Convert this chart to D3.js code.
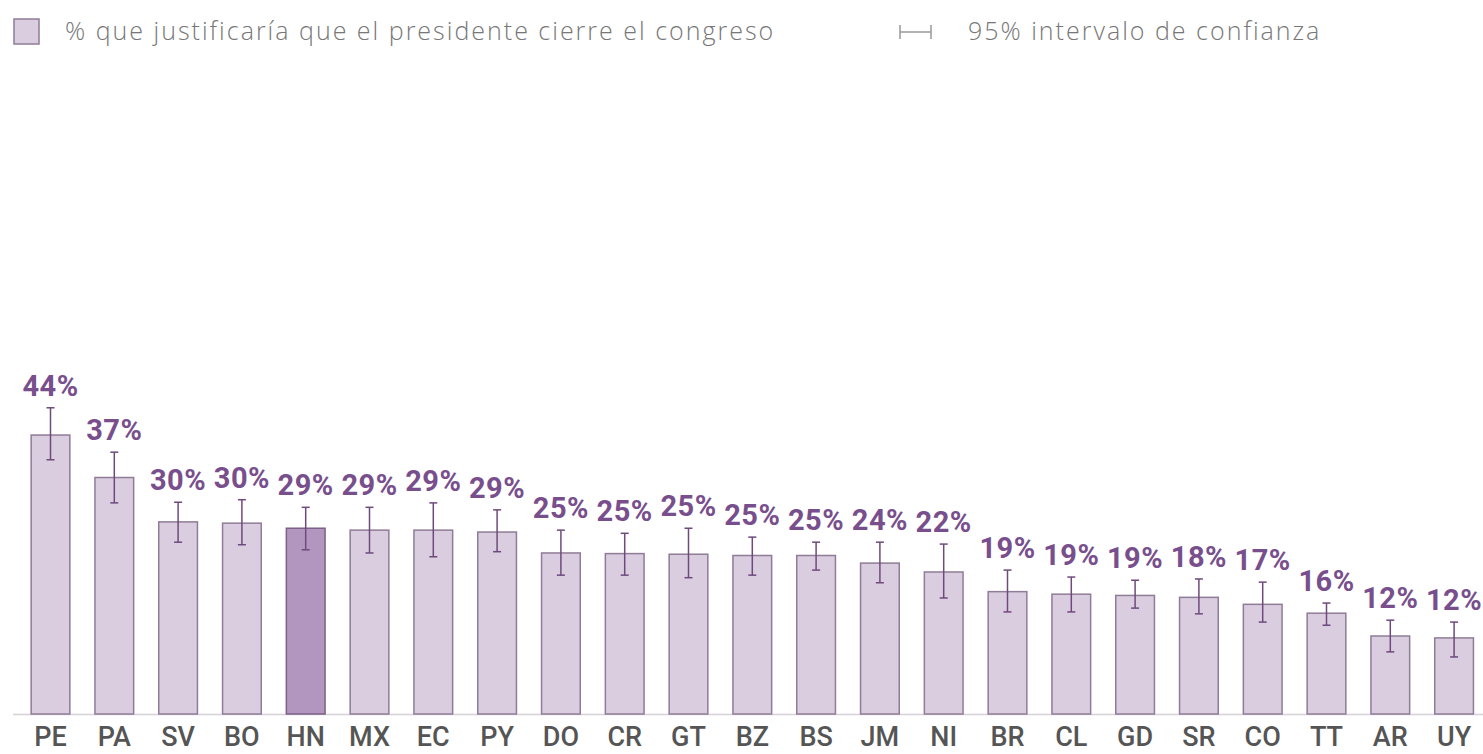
<!DOCTYPE html>
<html><head><meta charset="utf-8">
<script src="https://cdn.jsdelivr.net/npm/d3@7"></script>
<style>html,body{margin:0;padding:0;background:#fff;}svg{display:block;}</style>
</head><body>
<svg id="chart" width="1483" height="754"></svg>
<script>
const countries = ["PE","PA","SV","BO","HN","MX","EC","PY","DO","CR","GT","BZ","BS","JM","NI","BR","CL","GD","SR","CO","TT","AR","UY"];
const values    = [44.0,37.3,30.3,30.1,29.3,29.0,29.0,28.7,25.4,25.3,25.2,25.0,25.0,23.8,22.4,19.3,18.9,18.7,18.4,17.3,15.9,12.3,12.0];
const ciLow     = [40.1,33.3,27.1,26.7,25.9,25.4,24.8,25.6,21.9,21.9,21.5,21.9,22.7,20.7,18.3,16.1,16.1,16.7,15.8,14.5,14.0,9.8,9.0];
const ciHigh    = [48.3,41.3,33.4,33.8,32.6,32.6,33.3,32.2,29.0,28.5,29.3,27.9,27.1,27.1,26.8,22.7,21.6,21.1,21.3,20.8,17.5,14.8,14.5];
const highlight = "HN";
const legendLabels = ["% que justificaría que el presidente cierre el congreso", "95% intervalo de confianza"];

const data = countries.map((c,i)=>({c, v:values[i], lo:ciLow[i], hi:ciHigh[i]}));
const svg = d3.select("#chart");

const x = d3.scaleBand().domain(countries).range([18.6, 1486]).paddingInner(0.37).paddingOuter(0.185);
const y = d3.scaleLinear().domain([0,100]).range([714, 80]);

// baseline
svg.append("line").attr("x1",13).attr("x2",1483).attr("y1",y(0)+0.5).attr("y2",y(0)+0.5)
  .attr("stroke","#d6d0d8").attr("stroke-width",1.5);

// bars
svg.append("g").selectAll("rect").data(data).join("rect")
  .attr("x", d=>x(d.c)+0.75).attr("width", x.bandwidth()-1.5)
  .attr("y", d=>y(d.v)).attr("height", d=>y(0)-y(d.v))
  .attr("fill", d=>d.c===highlight?"#b396c0":"#dacde0")
  .attr("stroke", d=>d.c===highlight?"#7e6088":"#8f7c96").attr("stroke-width",1.5);

// error bars
const cap = 4;
const eg = svg.append("g").attr("stroke","#6e4a7c").attr("stroke-width",1.5);
data.forEach(d=>{
  const cx = x(d.c)+x.bandwidth()/2;
  eg.append("line").attr("x1",cx).attr("x2",cx).attr("y1",y(d.hi)).attr("y2",y(d.lo));
  eg.append("line").attr("x1",cx-cap).attr("x2",cx+cap).attr("y1",y(d.hi)).attr("y2",y(d.hi));
  eg.append("line").attr("x1",cx-cap).attr("x2",cx+cap).attr("y1",y(d.lo)).attr("y2",y(d.lo));
});

// value labels
svg.append("g").selectAll("text").data(data).join("text")
  .attr("x", d=>x(d.c)+x.bandwidth()/2).attr("y", d=>y(d.hi)-12)
  .attr("text-anchor","middle")
  .attr("font-family","Roboto, sans-serif").attr("font-weight",700).attr("font-size",29)
  .attr("letter-spacing",0.5)
  .attr("fill","#784f8c")
  .text(d=>d3.format(".0f")(d.v)+"%");

// x axis labels
const xAxis = d3.axisBottom(x).tickSize(0).tickPadding(13);
const ax = svg.append("g").attr("transform",`translate(0,${y(0)})`).call(xAxis);
ax.select(".domain").remove();
ax.selectAll("text").attr("font-family","Roboto, sans-serif").attr("font-weight",500)
  .attr("font-size",27).attr("fill","#555").attr("dy","0.71em");

// legend
const lg = svg.append("g");
lg.append("rect").attr("x",14).attr("y",19).attr("width",25).attr("height",25)
  .attr("fill","#dacde0").attr("stroke","#8f7c96").attr("stroke-width",1.5);
lg.append("text").attr("x",65).attr("y",40).text(legendLabels[0])
  .attr("font-family","'Open Sans', sans-serif").attr("font-weight",300).attr("font-size",25)
  .attr("letter-spacing",2).attr("fill","#777");
const ig = lg.append("g").attr("stroke","#999").attr("stroke-width",1.5);
ig.append("line").attr("x1",900).attr("x2",900).attr("y1",25).attr("y2",39);
ig.append("line").attr("x1",931).attr("x2",931).attr("y1",25).attr("y2",39);
ig.append("line").attr("x1",900).attr("x2",931).attr("y1",32).attr("y2",32);
lg.append("text").attr("x",968).attr("y",40).text(legendLabels[1])
  .attr("font-family","'Open Sans', sans-serif").attr("font-weight",300).attr("font-size",25)
  .attr("letter-spacing",2).attr("fill","#777");
</script>
</body></html>
